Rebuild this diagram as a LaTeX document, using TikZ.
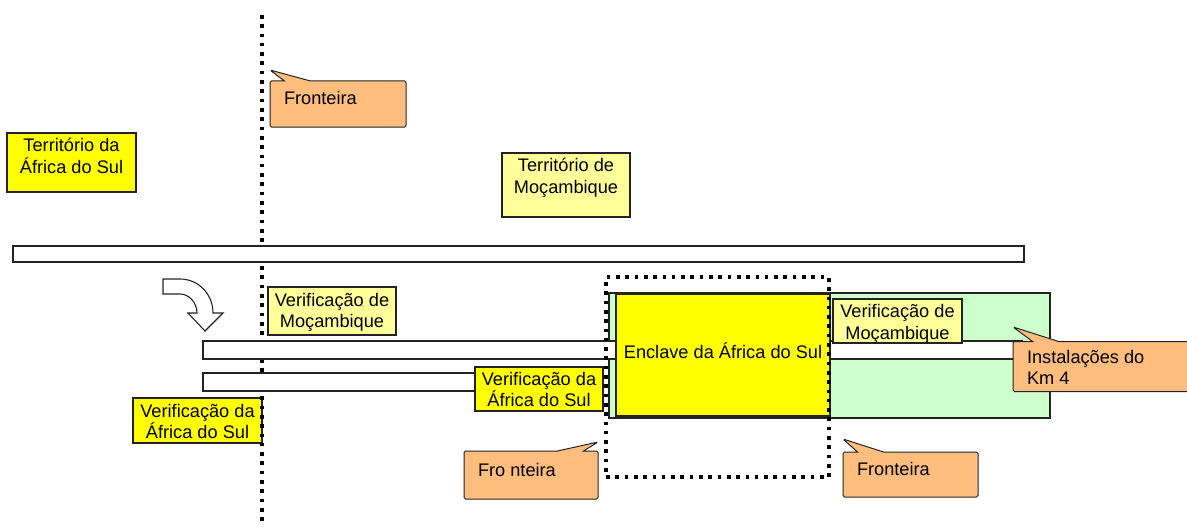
\documentclass[tikz,border=0pt]{standalone}
\usepackage{fontspec}
\setmainfont{Liberation Sans}
\usetikzlibrary{shapes.callouts}

\definecolor{boxyellow}{RGB}{255,255,0}
\definecolor{paleyellow}{RGB}{255,255,153}
\definecolor{noteorange}{RGB}{255,190,125}
\definecolor{enclavegreen}{RGB}{204,255,204}
\definecolor{edgegray}{RGB}{35,35,35}

% strut that fixes the height of the first text line
\newcommand\firstline{\rule{0pt}{17pt}}

\begin{document}
\begin{tikzpicture}[x=1pt,y=-1pt,
  every node/.style={inner sep=0pt, outer sep=0pt},
  panel/.style={rectangle, draw=edgegray, line width=1.1pt, anchor=north west},
  yellowbox/.style={panel, fill=boxyellow},
  palebox/.style={panel, fill=paleyellow},
  greenbox/.style={panel, fill=enclavegreen},
  roadbar/.style={panel, fill=white},
  boxtext/.style={font=\fontsize{18.2}{21.9}\selectfont, align=center, anchor=north},
  notetext/.style={font=\fontsize{18.2}{21.9}\selectfont, align=left, anchor=north west},
  borderline/.style={line width=3.6pt, dash pattern=on 3.6pt off 5.7pt},
  note/.style={rectangle callout, draw=edgegray, line width=1pt, fill=noteorange,
    rounded corners=1.5pt, callout pointer width=26pt},
]
\useasboundingbox (0,0) rectangle (1187,527);

% territory labels
\node[yellowbox, minimum width=129pt, minimum height=59pt] (terrSA) at (7,133) {};
\node[boxtext] (terrSAtxt) at (71.5,134.7) {\firstline Território da\\África do Sul};
\node[palebox, minimum width=128pt, minimum height=64pt] (terrMZ) at (502,153) {};
\node[boxtext] (terrMZtxt) at (566,154.7) {\firstline Território de\\Moçambique};

% left check point and the border line
\node[yellowbox, minimum width=129pt, minimum height=45pt] (verSAleft) at (133,398) {};
\node[boxtext] (verSAlefttxt) at (197.5,400) {\firstline Verificação da\\África do Sul};
\coordinate (borderTop) at (262,15);
\coordinate (borderBottom) at (262,527);
\draw[borderline] (borderTop) -- (borderBottom);

% roads
\node[roadbar, minimum width=1011pt, minimum height=16pt] (mainroad) at (13,246) {};
\node[greenbox, minimum width=441pt, minimum height=125pt] (km4area) at (609,293) {};
\node[roadbar, minimum width=819pt, minimum height=18pt] (roadIn) at (203,341) {};
\node[roadbar, minimum width=400pt, minimum height=18pt] (roadOut) at (203,373) {};

% enclave
\node[yellowbox, minimum width=214pt, minimum height=122pt] (enclave) at (616,294) {};
\node[boxtext] (enclavetxt) at (723,341) {\firstline Enclave da África do Sul};
\node[rectangle, draw, borderline, anchor=north west, minimum width=223pt,
  minimum height=200pt] (enclaveBorder) at (606,277) {};

% check points
\node[palebox, minimum width=128pt, minimum height=48pt] (verMZleft) at (268,287) {};
\node[boxtext] (verMZlefttxt) at (332,289) {\firstline Verificação de\\Moçambique};
\node[yellowbox, minimum width=128pt, minimum height=44pt] (verSAmid) at (475,367) {};
\node[boxtext] (verSAmidtxt) at (539,368) {\firstline Verificação da\\África do Sul};
\node[palebox, minimum width=129pt, minimum height=44pt] (verMZright) at (833,299) {};
\node[boxtext] (verMZrighttxt) at (897.5,300.3) {\firstline Verificação de\\Moçambique};

% turning arrow
\draw[draw=edgegray, line width=1.1pt, fill=white]
  (163,279) -- (180,279) .. controls (198.2,279) and (213,293.8) .. (213,313)
  -- (223,313) -- (205,331) -- (188,313) -- (197,313)
  .. controls (197,303) and (189.4,294) .. (180,294) -- (163,294) -- cycle;

% callouts
\coordinate (tipTop) at (270,70);
\node[note, minimum width=136pt, minimum height=46pt, callout absolute pointer={(tipTop)}]
  (noteTop) at (338,104) {};
\node[notetext] (noteToptxt) at (284,87) {\firstline Fronteira};

\coordinate (tipLeft) at (598,442);
\node[note, minimum width=134pt, minimum height=48pt, callout absolute pointer={(tipLeft)}]
  (noteLeft) at (531,475) {};
\node[notetext] (noteLefttxt) at (478,459) {\firstline Fro nteira};

\coordinate (tipRight) at (843,439);
\node[note, minimum width=135pt, minimum height=45pt, callout absolute pointer={(tipRight)}]
  (noteRight) at (910.5,474.5) {};
\node[notetext] (noteRighttxt) at (857,458) {\firstline Fronteira};

\coordinate (tipKm) at (1013,327);
\node[note, minimum width=178pt, minimum height=50pt, callout absolute pointer={(tipKm)}]
  (noteKm) at (1102,366.5) {};
\node[notetext] (noteKmtxt) at (1027,346) {\firstline Instalações do\\Km 4};
\end{tikzpicture}
\end{document}
